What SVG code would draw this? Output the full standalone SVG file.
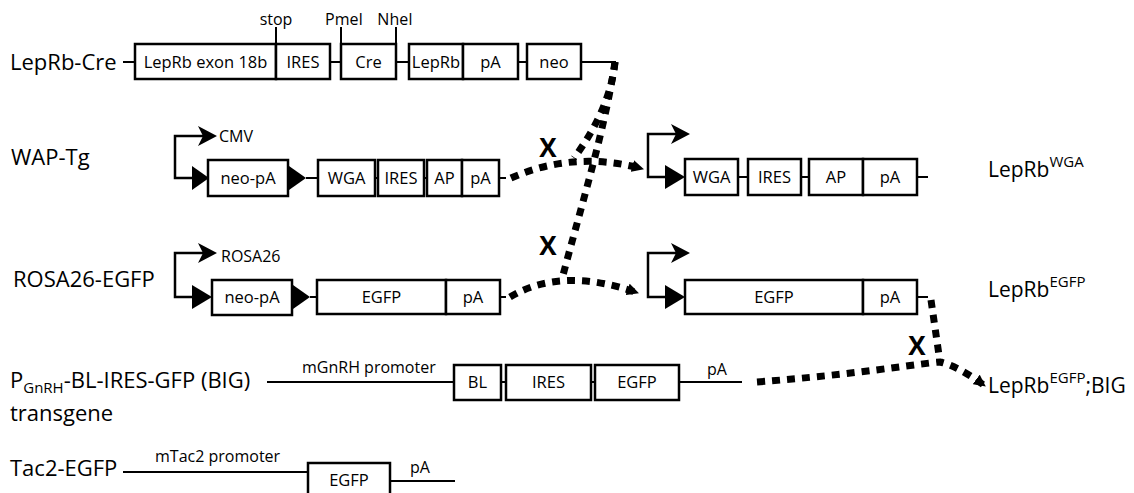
<svg xmlns="http://www.w3.org/2000/svg" width="1134" height="493" viewBox="0 0 1134 493">
<style>
text{font-family:"Open Sans","Noto Sans",sans-serif;fill:#000}
.lbl{font-size:22px}
.rl{font-size:21px}
.sup{font-size:15px}
.box{fill:#fff;stroke:#000;stroke-width:2.5}
.ln{stroke:#000;stroke-width:2;fill:none}
.pr{stroke:#000;stroke-width:2.5;fill:none}
.bt{font-size:16.5px;text-anchor:middle}
.sm{font-size:16px}
.dash{stroke:#000;stroke-width:7;stroke-dasharray:8 7;fill:none}
.x{font-size:26px;font-weight:bold;text-anchor:middle}
</style>
<defs>
<marker id="ah" viewBox="0 0 12 12" refX="11" refY="6" markerWidth="12" markerHeight="12" markerUnits="userSpaceOnUse" orient="auto">
<path d="M0,0 L12,6 L0,12 Z" fill="#000"/>
</marker>
<path id="pa" d="M0,0 L-19,-10 L-14,0 L-19,10 Z" fill="#000"/>
</defs>
<rect width="1134" height="493" fill="#fff"/>

<g id="leprb-cre">
<text class="lbl" x="10" y="70">LepRb-Cre</text>
<path class="ln" d="M123 62H135 M330 62H341 M396 62H409 M518 62H527 M581 62H616 M276 27V44 M341 27V44 M396 27V44"/>
<rect class="box" x="135" y="44" width="141" height="35"/>
<rect class="box" x="276" y="44" width="54" height="35"/>
<rect class="box" x="341" y="44" width="55" height="35"/>
<rect class="box" x="409" y="44" width="54" height="35"/>
<rect class="box" x="463" y="44" width="55" height="35"/>
<rect class="box" x="527" y="44" width="54" height="35"/>
<text class="bt" x="205.5" y="68">LepRb exon 18b</text>
<text class="bt" x="303" y="68">IRES</text>
<text class="bt" x="368.5" y="68">Cre</text>
<text class="bt" x="436" y="68">LepRb</text>
<text class="bt" x="490.5" y="68">pA</text>
<text class="bt" x="554" y="68">neo</text>
<text class="sm" x="276" y="25" text-anchor="middle">stop</text>
<text class="sm" x="344" y="25" text-anchor="middle">PmeI</text>
<text class="sm" x="395" y="25" text-anchor="middle">NheI</text>
</g>

<g id="wap-tg">
<text class="lbl" x="11" y="165">WAP-Tg</text>
<path class="pr" d="M205 136H175V178H194"/>
<use href="#pa" x="217" y="136"/>
<text class="sm" x="219" y="142">CMV</text>
<polygon points="192,166 192,190 209,178" fill="#000"/>
<rect class="box" x="208" y="160" width="80" height="36"/>
<polygon points="289,166 289,190 306,178" fill="#000"/>
<path class="ln" d="M306 178H318 M375 178H378 M424 178H427 M499 178H506"/>
<rect class="box" x="318" y="160" width="57" height="36"/>
<rect class="box" x="378" y="160" width="46" height="36"/>
<rect class="box" x="427" y="160" width="35" height="36"/>
<rect class="box" x="462" y="160" width="37" height="36"/>
<text class="bt" x="248" y="184">neo-pA</text>
<text class="bt" x="346.5" y="184">WGA</text>
<text class="bt" x="401" y="184">IRES</text>
<text class="bt" x="444.5" y="184">AP</text>
<text class="bt" x="480.5" y="184">pA</text>
</g>

<g id="leprb-wga">
<path class="pr" d="M678 134H648V177H667"/>
<use href="#pa" x="690" y="134"/>
<polygon points="665,165 665,189 685,177" fill="#000"/>
<path class="ln" d="M738 177H748 M801 177H809 M917 177H928"/>
<rect class="box" x="685" y="159" width="53" height="36"/>
<rect class="box" x="748" y="159" width="53" height="36"/>
<rect class="box" x="809" y="159" width="54" height="36"/>
<rect class="box" x="863" y="159" width="54" height="36"/>
<text class="bt" x="711.5" y="183">WGA</text>
<text class="bt" x="774.5" y="183">IRES</text>
<text class="bt" x="836" y="183">AP</text>
<text class="bt" x="890" y="183">pA</text>
<text class="rl" x="988" y="177">LepRb<tspan class="sup" dy="-10">WGA</tspan></text>
</g>

<g id="rosa26-egfp">
<text class="lbl" x="13" y="287">ROSA26-EGFP</text>
<path class="pr" d="M205 253H175V297H194"/>
<use href="#pa" x="217" y="253"/>
<text class="sm" x="221" y="262">ROSA26</text>
<polygon points="192,285 192,309 212,297" fill="#000"/>
<rect class="box" x="212" y="280" width="80" height="35"/>
<polygon points="293,285 293,309 310,297" fill="#000"/>
<path class="ln" d="M310 297H317 M500 297H506"/>
<rect class="box" x="317" y="280" width="129" height="34"/>
<rect class="box" x="446" y="280" width="54" height="34"/>
<text class="bt" x="252" y="303">neo-pA</text>
<text class="bt" x="381.5" y="303">EGFP</text>
<text class="bt" x="473" y="303">pA</text>
</g>

<g id="leprb-egfp">
<path class="pr" d="M678 253H648V297H667"/>
<use href="#pa" x="690" y="253"/>
<polygon points="665,285 665,309 685,297" fill="#000"/>
<path class="ln" d="M917 297H928"/>
<rect class="box" x="685" y="280" width="178" height="34"/>
<rect class="box" x="863" y="280" width="54" height="34"/>
<text class="bt" x="774" y="303">EGFP</text>
<text class="bt" x="890" y="303">pA</text>
<text class="rl" x="988" y="297">LepRb<tspan class="sup" dy="-10">EGFP</tspan></text>
</g>

<g id="big-transgene">
<text class="lbl" x="10" y="388">P<tspan font-size="15" dy="5">GnRH</tspan><tspan dy="-5">-BL-IRES-GFP (BIG)</tspan></text>
<text class="lbl" x="10" y="421">transgene</text>
<path class="ln" d="M267 382H454 M501 382H506 M591 382H595 M679 382H742"/>
<rect class="box" x="454" y="365" width="47" height="35"/>
<rect class="box" x="506" y="365" width="85" height="35"/>
<rect class="box" x="595" y="365" width="84" height="35"/>
<text class="bt" x="477.5" y="388">BL</text>
<text class="bt" x="548.5" y="388">IRES</text>
<text class="bt" x="637" y="388">EGFP</text>
<text class="sm" x="302" y="373">mGnRH promoter</text>
<text class="sm" x="707" y="375">pA</text>
</g>

<g id="leprb-egfp-big">
<text class="rl" x="988" y="393">LepRb<tspan class="sup" dy="-10">EGFP</tspan><tspan dy="10">;BIG</tspan></text>
</g>

<g id="tac2-egfp">
<text class="lbl" x="10" y="476">Tac2-EGFP</text>
<path class="ln" d="M123 472H308 M390 481H455"/>
<rect class="box" x="308" y="463" width="82" height="40"/>
<text class="bt" x="349" y="486">EGFP</text>
<text class="sm" x="155" y="462">mTac2 promoter</text>
<text class="sm" x="410" y="473">pA</text>
</g>

<g id="connectors">
<path class="dash" d="M511 178 Q575 150 643 169" marker-end="url(#ah)"/>
<path class="dash" d="M615 62 C612 95 595 130 574 158"/>
<path class="dash" d="M615 62 C605 130 580 210 562 279"/>
<path class="dash" d="M510 297 Q562 266 638 293" marker-end="url(#ah)"/>
<path class="dash" d="M931 300 L940 362"/>
<path class="dash" d="M757 382 C860 374 915 364 940 362 Q958 366 985 386" marker-end="url(#ah)"/>
<text class="x" x="548" y="157">X</text>
<text class="x" x="548" y="255">X</text>
<text class="x" x="917" y="355">X</text>
</g>
</svg>
